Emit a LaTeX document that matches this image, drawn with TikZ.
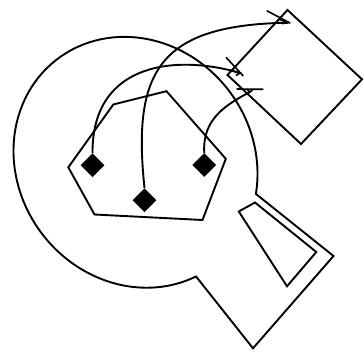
\documentclass[tikz,border=0pt]{standalone}
\usetikzlibrary{shapes.geometric}
\tikzset{
  outline/.style={line width=1.9pt, line join=miter},
  gem/.style={diamond, fill=black, inner sep=0pt, minimum size=24pt},
  flathead/.style={line width=1.6pt, line join=miter},
}
\begin{document}
\begin{tikzpicture}[x=1pt, y=-1pt]
  \useasboundingbox (0,0) rectangle (364,356);
  % keyhole outline
  \draw[outline] plot[domain=-41.4:-350.5, samples=150]
    ({135.5+77.18*cos(\x)-94.51*sin(\x)}, {162.3+103.99*cos(\x)+70.15*sin(\x)})
    -- (253,348.3) -- (333.5,256) -- cycle;
  % hexagon
  \draw[outline] (68.3,167.3) -- (113.3,104.5) -- (166.5,91.2) -- (225.8,158.8)
    -- (202.5,220) -- (94.5,214.5) -- cycle;
  % box
  \draw[outline] (287.5,10) -- (362,79.3) -- (301,144) -- (227.5,75) -- cycle;
  % wedge
  \draw[outline] (238.8,211.5) -- (255,202.5) -- (316.3,252) -- (287,286.3) -- cycle;
  % ports
  \node[gem] (pl) at (92.5,165.3) {};
  \node[gem] (pm) at (144.5,200.2) {};
  \node[gem] (pr) at (204.3,165) {};
  \coordinate (tl) at (240,73);
  \coordinate (tm) at (288,22.7);
  \coordinate (tr) at (250,92);
  % links
  \draw[outline] (pl.north) .. controls (92,60) and (180,55) .. (tl);
  \draw[outline] (pm.north) .. controls (132,70) and (160,25) .. (tm);
  \draw[outline] (pr.north) .. controls (202,120) and (225,105) .. (tr);
  % heads
  \draw[flathead] (266.7,10.7) -- (290,23);
  \draw[flathead] (279,19.2) -- (tm) -- (282,23.6);
  \draw[flathead] (226,57.3) -- (243.3,76);
  \draw[flathead] (229,70) -- (tl) -- (236,75.5);
  \draw[flathead] (236.7,89) -- (263.3,89.3);
  \draw[flathead] (246.7,89.1) -- (tr) -- (253.3,89.2);
\end{tikzpicture}
\end{document}
